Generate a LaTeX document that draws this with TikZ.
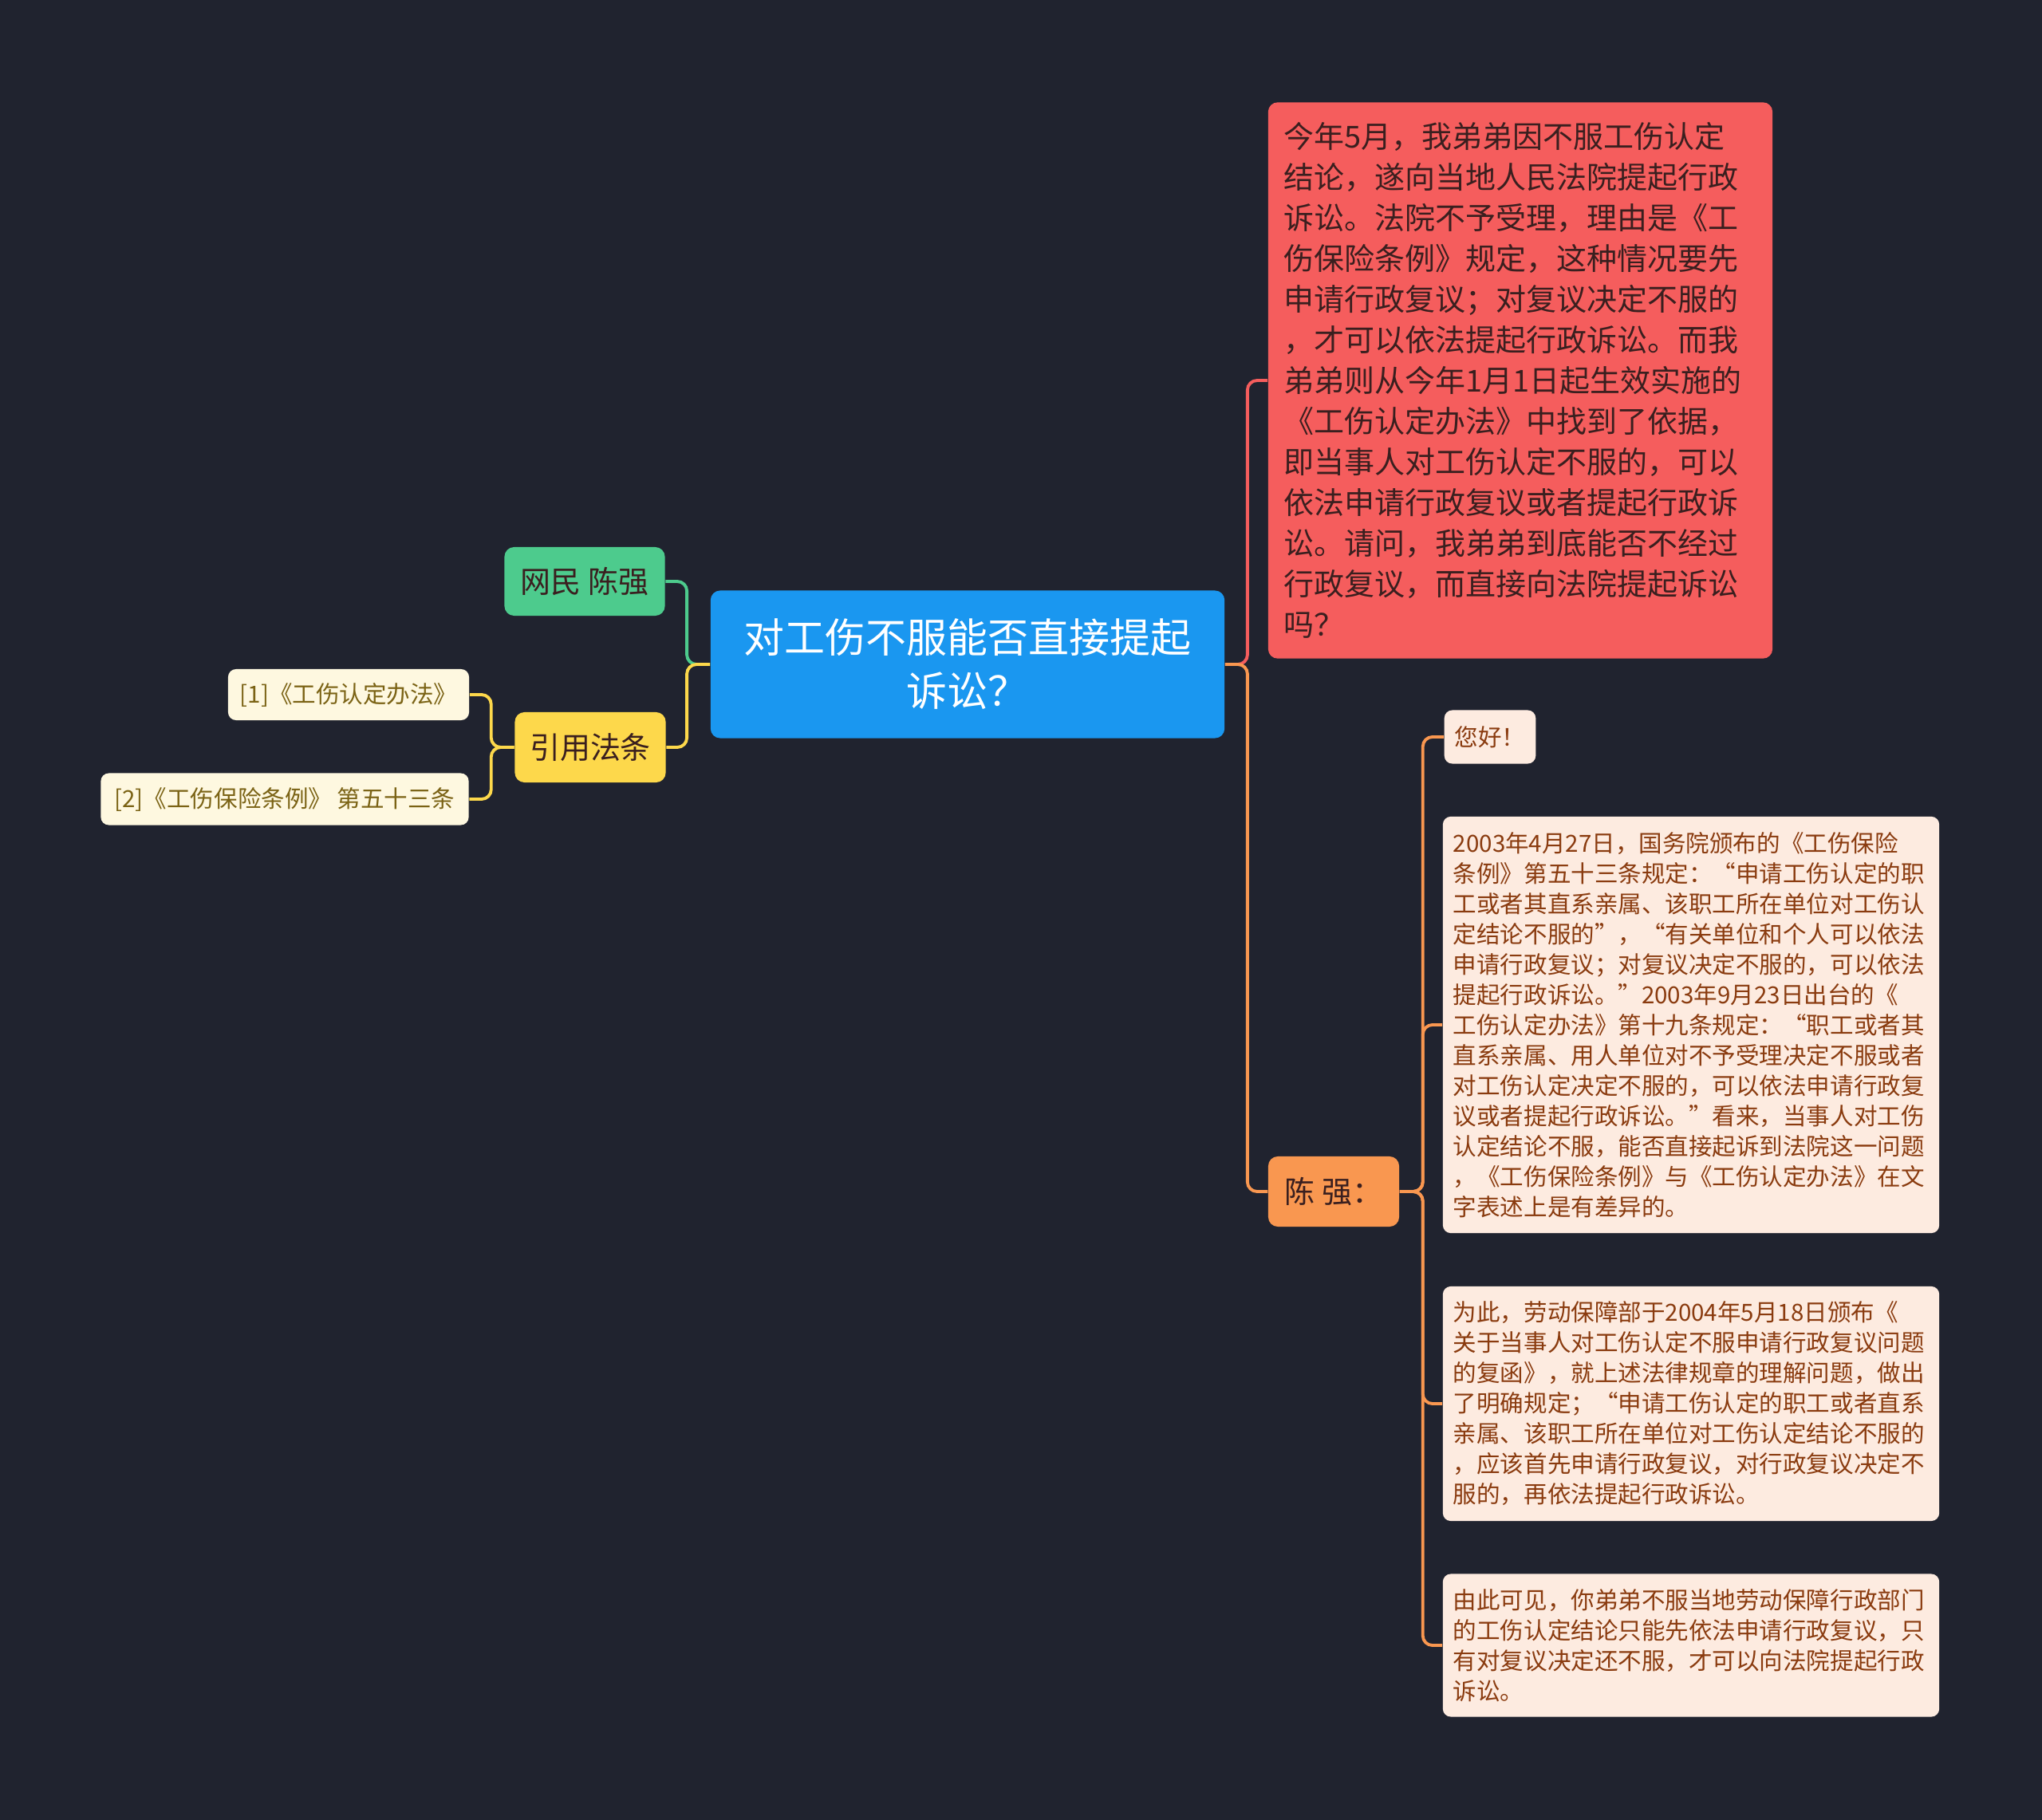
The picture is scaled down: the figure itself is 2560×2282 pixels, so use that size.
\documentclass[tikz,border=0pt]{standalone}
\usepackage{fontspec}
\setmainfont{Noto Sans CJK SC}
\usepackage{tikz}
\usetikzlibrary{positioning}

\definecolor{bgcol}{HTML}{20232F}
\definecolor{rootblue}{HTML}{1A97F0}
\definecolor{askred}{HTML}{F55D5D}
\definecolor{askredtext}{HTML}{3A1F1F}
\definecolor{replyorange}{HTML}{F99750}
\definecolor{replyfill}{HTML}{FDEBE0}
\definecolor{replytext}{HTML}{8A3B0F}
\definecolor{usergreen}{HTML}{4DCB8D}
\definecolor{lawyellow}{HTML}{FDD84B}
\definecolor{lawfill}{HTML}{FEF8E0}
\definecolor{lawtext}{HTML}{7B6315}

\begin{document}
\begin{tikzpicture}[
  x=0.01cm, y=-0.01cm,
  topic/.style={
    fill=rootblue,
    text=white,
    rounded corners=0.12cm,
    align=center,
    inner sep=0pt,
    font=\fontsize{14.5pt}{19.1pt}\selectfont
  },
  branch/.style={
    rounded corners=0.12cm,
    align=center,
    inner sep=0pt,
    font=\fontsize{10.8pt}{14.5pt}\selectfont
  },
  leaf/.style={
    fill=replyfill,
    text=replytext,
    rounded corners=0.1cm,
    align=left,
    inner xsep=0.13cm,
    inner ysep=0pt,
    font=\fontsize{8.4pt}{10.8pt}\selectfont
  },
  lawleaf/.style={
    fill=lawfill,
    text=lawtext,
    rounded corners=0.1cm,
    align=center,
    inner sep=0pt,
    font=\fontsize{8.4pt}{10.8pt}\selectfont
  },
  link/.style={
    line width=1.1pt,
    rounded corners=0.12cm
  }
]

% Background
\fill[bgcol] (0,0) rectangle (2560,2282);

% -------------------------------------------------------------------
% Root
% -------------------------------------------------------------------
\node[topic, minimum width=6.44cm, minimum height=1.85cm] (root) at (1213,833)
{对工伤不服能否直接提起\\诉讼？};

% -------------------------------------------------------------------
% Question card
% -------------------------------------------------------------------
\node[branch, fill=askred, text=askredtext, align=left, text width=5.92cm,
  inner xsep=0.2cm, minimum height=6.97cm] (ask) at (1906,477)
{
  今年5月，我弟弟因不服工伤认定\\
  结论，遂向当地人民法院提起行政\\
  诉讼。法院不予受理，理由是《工\\
  伤保险条例》规定，这种情况要先\\
  申请行政复议；对复议决定不服的\\
  ，才可以依法提起行政诉讼。而我\\
  弟弟则从今年1月1日起生效实施的\\
  《工伤认定办法》中找到了依据，\\
  即当事人对工伤认定不服的，可以\\
  依法申请行政复议或者提起行政诉\\
  讼。请问，我弟弟到底能否不经过\\
  行政复议，而直接向法院提起诉讼\\
  吗？
};

% -------------------------------------------------------------------
% Reply branch
% -------------------------------------------------------------------
\node[branch, fill=replyorange, text=askredtext, minimum width=1.64cm,
  minimum height=0.88cm] (chen) at (1672,1494) {陈 强：};

\node[leaf, minimum height=0.67cm] (hello) at (1868,924) {您好！};

\node[leaf, text width=5.96cm, minimum height=5.22cm] (reply1) at (2120,1285)
{
  2003年4月27日，国务院颁布的《工伤保险\\
  条例》第五十三条规定：“申请工伤认定的职\\
  工或者其直系亲属、该职工所在单位对工伤认\\
  定结论不服的”，“有关单位和个人可以依法\\
  申请行政复议；对复议决定不服的，可以依法\\
  提起行政诉讼。”2003年9月23日出台的《\\
  工伤认定办法》第十九条规定：“职工或者其\\
  直系亲属、用人单位对不予受理决定不服或者\\
  对工伤认定决定不服的，可以依法申请行政复\\
  议或者提起行政诉讼。”看来，当事人对工伤\\
  认定结论不服，能否直接起诉到法院这一问题\\
  ，《工伤保险条例》与《工伤认定办法》在文\\
  字表述上是有差异的。
};

\node[leaf, text width=5.96cm, minimum height=2.94cm] (reply2) at (2120,1760)
{
  为此，劳动保障部于2004年5月18日颁布《\\
  关于当事人对工伤认定不服申请行政复议问题\\
  的复函》，就上述法律规章的理解问题，做出\\
  了明确规定；“申请工伤认定的职工或者直系\\
  亲属、该职工所在单位对工伤认定结论不服的\\
  ，应该首先申请行政复议，对行政复议决定不\\
  服的，再依法提起行政诉讼。
};

\node[leaf, text width=5.96cm, minimum height=1.79cm] (reply3) at (2120,2063)
{
  由此可见，你弟弟不服当地劳动保障行政部门\\
  的工伤认定结论只能先依法申请行政复议，只\\
  有对复议决定还不服，才可以向法院提起行政\\
  诉讼。
};

% -------------------------------------------------------------------
% Left side
% -------------------------------------------------------------------
\node[branch, fill=usergreen, text=askredtext, minimum width=2.01cm,
  minimum height=0.86cm] (user) at (733,729) {网民 陈强};

\node[branch, fill=lawyellow, text=askredtext, minimum width=1.89cm,
  minimum height=0.88cm] (laws) at (740,937) {引用法条};

\node[lawleaf, minimum width=3.02cm, minimum height=0.64cm] (law1) at (437,871)
{[1]《工伤认定办法》};

\node[lawleaf, minimum width=4.61cm, minimum height=0.65cm] (law2) at (357,1002)
{[2]《工伤保险条例》 第五十三条};

% Connectors
\draw[link, askred] (root.east) -- ++(28,0) |- (ask.west);
\draw[link, replyorange] (root.east) -- ++(28,0) |- (chen.west);
\foreach \leafname in {hello, reply1, reply2, reply3}
  \draw[link, replyorange] (chen.east) -- ++(29,0) |- (\leafname.west);

\draw[link, usergreen] (root.west) -- ++(-29,0) |- (user.east);
\draw[link, lawyellow] (root.west) -- ++(-29,0) |- (laws.east);
\foreach \leafname in {law1, law2}
  \draw[link, lawyellow] (laws.west) -- ++(-29,0) |- (\leafname.east);

\end{tikzpicture}
\end{document}
